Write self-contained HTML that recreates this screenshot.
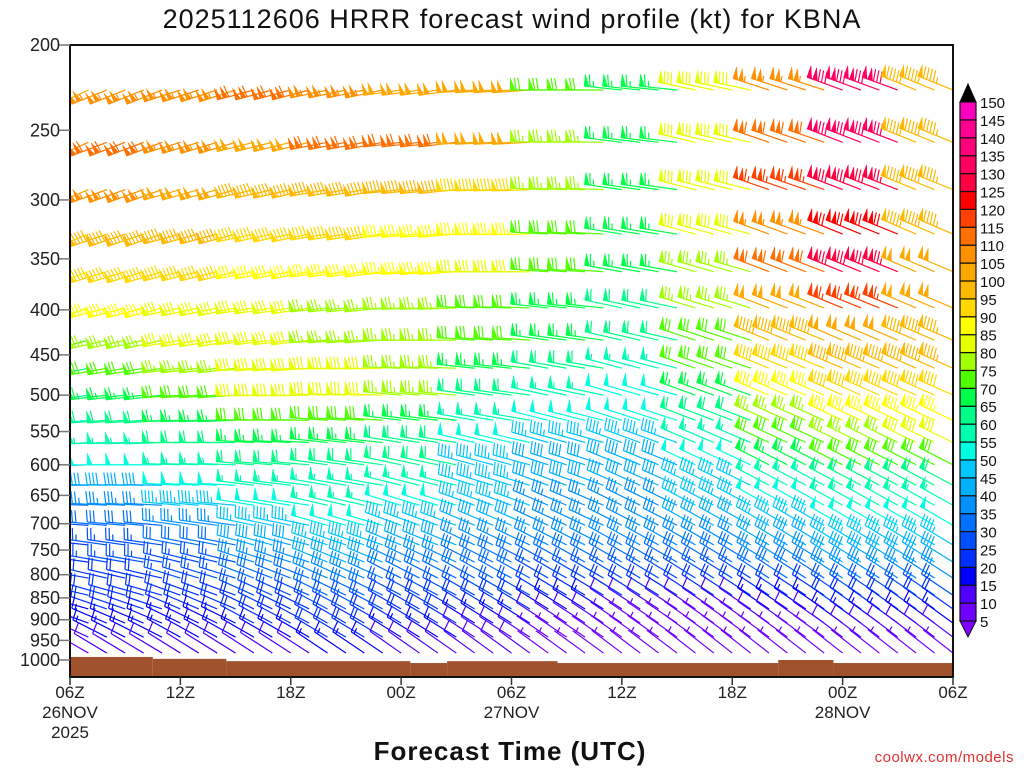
<!DOCTYPE html>
<html><head><meta charset="utf-8"><style>
html,body{margin:0;padding:0;background:#fff}
svg{display:block;font-family:"Liberation Sans","DejaVu Sans",sans-serif}
</style></head><body>
<svg id="chart" width="1024" height="768" viewBox="0 0 1024 768">
<text x="512" y="28" text-anchor="middle" font-size="27" letter-spacing="1" fill="#111">2025112606 HRRR forecast wind profile (kt) for KBNA</text>
<defs><clipPath id="plotclip"><rect x="70" y="45" width="883" height="632"/></clipPath></defs>
<g id="terrain"></g>
<g id="barbs" clip-path="url(#plotclip)"></g>
<rect x="70" y="45" width="883" height="632" fill="none" stroke="#111" stroke-width="2"/>
<g id="yaxis"></g>
<g id="xaxis"></g>
<g id="cbar"></g>
<text x="510" y="760" text-anchor="middle" font-size="26" font-weight="bold" letter-spacing="1" fill="#111">Forecast Time (UTC)</text>
<text x="1014" y="762" text-anchor="end" font-size="15" letter-spacing="0.5" fill="#e03030">coolwx.com/models</text>
</svg>
<script>
const levels=[225,258,292,328,362,398,433,466,500,534,566,600,633,667,703,740,774,807,844,875,908,942,982];
const anchorHours=[0,4,8,12,16,20,24,28,32,36,40,44,48];
const speeds=[
[100,105,105,110,105,100,100,70,65,80,105,130,95],
[105,110,105,100,110,110,100,75,65,80,110,130,95],
[100,105,100,95,95,95,90,75,65,80,115,125,95],
[90,95,95,90,90,85,85,70,65,80,105,120,95],
[85,90,90,85,85,85,80,70,65,75,110,125,100],
[80,85,80,80,75,75,70,65,60,75,100,115,100],
[70,75,80,80,75,75,70,65,60,70,95,100,95],
[60,70,75,80,80,75,65,60,55,70,90,95,95],
[55,65,70,80,80,75,60,55,50,65,85,90,90],
[50,60,65,70,70,65,55,50,50,60,75,85,85],
[50,55,60,65,65,60,50,45,45,55,70,75,80],
[45,50,55,60,60,60,45,40,40,50,65,70,70],
[35,40,50,55,55,55,45,40,40,45,55,60,60],
[30,35,45,50,55,50,45,35,35,45,50,55,55],
[25,30,35,45,50,45,40,35,35,40,45,50,50],
[20,25,30,40,45,40,35,35,35,35,40,45,45],
[20,25,25,35,40,35,30,30,30,30,35,40,40],
[20,20,25,30,35,30,30,25,25,25,30,35,35],
[20,20,20,25,30,25,25,20,20,20,20,25,25],
[15,20,20,20,25,20,20,15,10,10,15,20,20],
[15,15,15,20,20,20,15,10,5,5,10,15,15],
[10,15,15,15,20,15,10,5,5,5,5,10,10],
[5,10,10,10,15,10,10,5,5,5,5,5,5]];
const dirs=[
[245,248,252,255,258,262,266,270,276,282,288,290,292],
[246,249,253,256,259,263,267,271,277,283,289,291,292],
[247,250,254,257,260,264,268,272,278,284,289,291,292],
[248,251,255,258,261,265,269,273,279,285,290,292,293],
[250,253,256,259,262,266,270,274,280,286,291,292,293],
[252,255,258,261,264,268,272,276,282,287,291,292,293],
[255,257,260,263,266,270,274,278,283,288,292,293,293],
[258,260,263,266,269,272,276,280,285,289,292,293,294],
[261,263,266,269,272,275,278,282,286,290,293,294,294],
[264,266,268,271,274,277,280,284,288,291,294,295,295],
[266,268,270,273,276,279,283,286,290,293,295,296,296],
[268,270,272,275,278,282,285,288,292,295,297,297,297],
[270,271,273,277,280,284,287,290,294,296,298,298,298],
[272,273,275,279,283,287,290,293,296,298,299,299,299],
[274,275,278,282,286,290,293,295,297,299,300,300,300],
[276,278,281,285,289,292,295,297,299,300,301,301,301],
[278,280,284,288,292,295,297,299,300,301,302,302,302],
[280,283,287,291,294,297,299,300,301,302,303,303,303],
[283,286,290,294,296,298,300,301,302,303,303,304,304],
[286,289,293,296,298,300,301,302,303,304,304,305,305],
[290,293,296,298,300,301,302,303,304,305,305,306,306],
[295,297,299,300,301,302,303,304,305,306,306,307,307],
[300,301,302,303,304,305,306,306,307,308,308,308,308]];
const pTicks=[200,250,300,350,400,450,500,550,600,650,700,750,800,850,900,950,1000];
const xTickHours=[0,6,12,18,24,30,36,42,48];
const xTickLabels=["06Z","12Z","18Z","00Z","06Z","12Z","18Z","00Z","06Z"];
const dateLabels=[[0,"26NOV"],[24,"27NOV"],[42,"28NOV"]];
const cbarLevels=[5,10,15,20,25,30,35,40,45,50,55,60,65,70,75,80,85,90,95,100,105,110,115,120,125,130,135,140,145,150];
const cbarColors=["#7000ff","#5000ff","#0000ff","#0030ff","#0050ff","#0070ff","#0090ff","#00b0ff","#00c8ff","#00ffe0","#00ffb0","#00ff88","#00ff48","#50ff00","#a0ff00","#e8ff00","#ffff00","#ffd800","#ffb800","#ffa800","#ff9000","#ff7000","#ff4000","#ff0000","#ff0040","#ff0060","#ff0078","#ff0090","#ff00c0","#ff00ff"];
const terrainHours=[0,4.5,8.5,18.5,20.5,26.5,38.5,41.5,48];
const terrainP=[992,997,1003,1008,1003,1008,1000,1008];

const NS="http://www.w3.org/2000/svg";
const X0=70,X1=953,Y0=45,Y1=677,YB=660;
const xS=h=>X0+h*(X1-X0)/48;
const yS=p=>YB-Math.log(1000/p)/Math.log(1000/200)*(YB-Y0);
function mk(tag,attrs,parent){const e=document.createElementNS(NS,tag);for(const k in attrs)e.setAttribute(k,attrs[k]);parent.appendChild(e);return e;}
function colorFor(s){if(s<5)return "#8000ff";let i=Math.floor((s-5)/5);if(i>=cbarColors.length)return "#000";return cbarColors[i];}

const tg=document.getElementById('terrain');
for(let i=0;i<terrainP.length;i++){
  const yt=yS(terrainP[i]);
  const r=mk('rect',{x:xS(terrainHours[i]),y:yt,width:xS(terrainHours[i+1])-xS(terrainHours[i]),height:Math.max(0,Y1-yt),fill:'#a0522d'},tg);
  
  
}

const bg=document.getElementById('barbs');
const L=38,BL=12;
for(let li=0;li<levels.length;li++){
  const y=yS(levels[li]);
  for(let h=0;h<=48;h++){
    const ai=Math.min(anchorHours.length-1,Math.round(h/4));
    const spd=speeds[li][ai],d=dirs[li][ai]*Math.PI/180;
    const sx=xS(h),sy=y;
    const ux=Math.sin(d),uy=-Math.cos(d);
    const px=-uy,py=ux;
    const col=colorFor(spd);
    const g=mk('g',{stroke:col,fill:col,'stroke-width':1.2},bg);
    
    
    const tx=sx+ux*L,ty=sy+uy*L;
    mk('line',{x1:sx,y1:sy,x2:tx,y2:ty},g);
    let r=Math.round(spd/5)*5,pos=0;
    while(r>=50){
      const ax=tx-ux*pos,ay=ty-uy*pos;
      mk('polygon',{points:`${ax},${ay} ${ax+px*BL},${ay+py*BL} ${ax-ux*5},${ay-uy*5}`,'stroke-width':0.5},g);
      pos+=6;r-=50;
    }
    while(r>=10){
      const ax=tx-ux*pos,ay=ty-uy*pos;
      mk('line',{x1:ax,y1:ay,x2:ax+px*BL+ux*2,y2:ay+py*BL+uy*2},g);
      pos+=3.5;r-=10;
    }
    if(r>=5){
      if(pos===0)pos=3.5;
      const ax=tx-ux*pos,ay=ty-uy*pos;
      mk('line',{x1:ax,y1:ay,x2:ax+px*BL/2+ux,y2:ay+py*BL/2+uy},g);
    }
  }
}

const ya=document.getElementById('yaxis');
pTicks.forEach(p=>{
  const y=yS(p);
  const t=mk('line',{x1:58,y1:y,x2:70,y2:y,stroke:'#777','stroke-width':1.5},ya);
  
  
  const tx=mk('text',{x:60,y:y+6,'text-anchor':'end','font-size':18,fill:'#222'},ya);
  tx.textContent=p;
  
  
});
const xa=document.getElementById('xaxis');
xTickHours.forEach((h,i)=>{
  const x=xS(h);
  const t=mk('line',{x1:x,y1:Y1,x2:x,y2:Y1+8,stroke:'#333','stroke-width':1.5},xa);
  
  
  const tx=mk('text',{x:x,y:698,'text-anchor':'middle','font-size':17,fill:'#222'},xa);
  tx.textContent=xTickLabels[i];
  
  
});
dateLabels.forEach(([h,s])=>{
  const tx=mk('text',{x:xS(h),y:718,'text-anchor':'middle','font-size':17,fill:'#222'},xa);
  tx.textContent=s;
  
  
});
const yr=mk('text',{x:xS(0),y:738,'text-anchor':'middle','font-size':17,fill:'#222'},xa);
yr.textContent="2025";



const cb=document.getElementById('cbar');
const CX=960,CW=16,CB=621,CS=(621-102)/29;
const bt=mk('polygon',{points:`${CX},${CB} ${CX+CW},${CB} ${CX+CW/2},${CB+16}`,fill:'#8000ff',stroke:'#111'},cb);


for(let i=0;i<cbarLevels.length-1;i++){
  const r=mk('rect',{x:CX,y:CB-(i+1)*CS,width:CW,height:CS,fill:cbarColors[i],stroke:'#111','stroke-width':1.2},cb);
  
  
}
const topY=CB-(cbarLevels.length-1)*CS;
const tt=mk('polygon',{points:`${CX},${topY} ${CX+CW},${topY} ${CX+CW/2},${topY-18}`,fill:'#000',stroke:'#111'},cb);


cbarLevels.forEach((v,i)=>{
  const tx=mk('text',{x:980,y:CB-i*CS+6,'font-size':15,fill:'#111'},cb);
  tx.textContent=v;
  
  
});
</script>
</body></html>
